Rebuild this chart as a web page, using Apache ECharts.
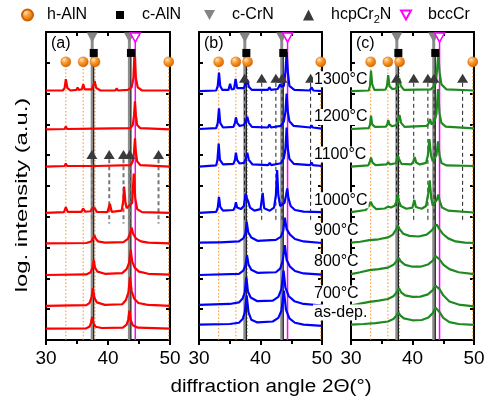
<!DOCTYPE html>
<html>
<head>
<meta charset="utf-8">
<script src="https://cdn.jsdelivr.net/npm/echarts@6/dist/echarts.min.js"></script>
<style>
  html, body { margin: 0; padding: 0; background: #fff; }
  #chart { width: 489px; height: 397px; }
</style>
</head>
<body>
<div id="chart"></div>
<script>
// reference peak positions (2theta, deg)
const hAlN = [33.2, 36.0, 37.9, 49.8];
const cAlN = [37.7, 43.7];
const cCrN = [37.45, 43.45];
const hcpCr2N = [37.4, 40.2, 42.5, 43.5, 48.15];
const bccCr = [44.4];

const temps = ['as-dep.', '700°C', '800°C', '900°C', '1000°C', '1100°C', '1200°C', '1300°C'];

// panel (a) - red
const aAsDep = [[30,0.37],[36.5,0.38],[37.0,0.43],[37.25,0.55],[37.45,0.75],[37.65,0.55],[38.0,0.43],[39,0.39],[42.4,0.4],[43.0,0.5],[43.25,0.65],[43.45,0.95],[43.65,0.65],[44.0,0.48],[44.8,0.4],[50,0.37]];
const a700 = [[30,1.11],[36.5,1.13],[37.0,1.2],[37.35,1.38],[37.55,1.68],[37.8,1.38],[38.2,1.22],[39.5,1.14],[42.3,1.16],[42.9,1.3],[43.3,1.55],[43.55,2.05],[43.8,1.6],[44.2,1.35],[44.9,1.2],[46.2,1.15],[46.4,1.2],[46.6,1.14],[50,1.11]];
const a800 = [[30,2.11],[36.5,2.13],[37.2,2.2],[37.5,2.35],[37.7,2.6],[37.9,2.35],[38.3,2.22],[39.5,2.15],[42.3,2.17],[43.0,2.3],[43.4,2.5],[43.65,2.93],[43.9,2.55],[44.3,2.35],[45.0,2.22],[46.5,2.15],[50,2.12]];
const a900 = [[30,3.14],[36.5,3.15],[37.3,3.2],[37.6,3.3],[37.8,3.4],[38.0,3.3],[38.4,3.2],[39.5,3.16],[42.5,3.18],[43.2,3.28],[43.55,3.45],[43.8,3.65],[44.05,3.45],[44.5,3.3],[45.3,3.2],[46.5,3.16],[50,3.14]];
const a1000 = [[30,4.13],[32.9,4.15],[33.2,4.31],[33.5,4.16],[35.7,4.16],[36.0,4.27],[36.3,4.17],[37.2,4.18],[37.5,4.3],[37.65,4.24],[37.85,4.28],[38.2,4.16],[39.9,4.15],[40.3,4.42],[40.6,4.16],[42.2,4.2],[42.45,4.5],[42.6,4.98],[42.8,4.5],[43.0,4.28],[43.3,4.3],[43.9,4.45],[44.15,5.4],[44.4,4.6],[44.7,4.25],[45.5,4.15],[50,4.13]];
const a1100 = [[30,5.63],[33.0,5.65],[33.2,5.73],[33.4,5.65],[37.7,5.65],[37.9,5.7],[38.1,5.65],[43.7,5.68],[44.0,5.8],[44.2,6.1],[44.35,6.55],[44.5,6.1],[44.7,5.8],[45.2,5.68],[50,5.63]];
const a1200 = [[30,6.84],[33.0,6.85],[33.2,6.93],[33.4,6.85],[37.7,6.86],[37.9,6.92],[38.1,6.86],[43.6,6.88],[44.0,6.98],[44.2,7.3],[44.35,7.75],[44.5,7.3],[44.7,6.98],[45.2,6.88],[50,6.84]];
const a1300 = [[30,8.1],[32.7,8.1],[33.0,8.18],[33.2,8.47],[33.45,8.18],[34,8.1],[34.9,8.12],[35.1,8.2],[35.3,8.12],[35.8,8.14],[36.0,8.3],[36.25,8.14],[37.4,8.14],[37.6,8.2],[37.85,8.4],[38.1,8.18],[38.8,8.1],[41.2,8.1],[41.4,8.17],[41.6,8.1],[43.2,8.12],[43.5,8.18],[43.8,8.2],[44.1,8.5],[44.3,9.45],[44.5,8.5],[44.8,8.2],[45.5,8.1],[47.9,8.1],[48.1,8.16],[48.3,8.1],[50,8.1]];

// panel (b) - blue
const bAsDep = [[30,0.5],[35,0.52],[36.5,0.56],[37.1,0.68],[37.45,0.9],[37.75,1.45],[38.05,0.9],[38.5,0.66],[39.5,0.57],[42.0,0.6],[42.9,0.72],[43.4,0.95],[43.8,1.6],[44.15,0.98],[44.7,0.7],[45.6,0.56],[47,0.5],[50,0.46]];
const b700 = [[30,1.14],[35,1.17],[36.5,1.22],[37.1,1.35],[37.45,1.55],[37.7,2.04],[37.95,1.58],[38.4,1.38],[39.5,1.26],[42.0,1.28],[42.9,1.4],[43.4,1.65],[43.75,2.25],[44.05,1.7],[44.6,1.42],[45.5,1.26],[47,1.17],[50,1.12]];
const b800 = [[30,2.11],[36.5,2.15],[37.2,2.25],[37.55,2.42],[37.8,2.75],[38.05,2.45],[38.5,2.28],[39.5,2.18],[42.5,2.2],[43.2,2.32],[43.6,2.55],[43.95,3.08],[44.25,2.6],[44.8,2.38],[45.6,2.24],[47,2.16],[50,2.12]];
const b900 = [[30,3.16],[33.0,3.17],[33.2,3.22],[33.4,3.17],[36.5,3.2],[37.2,3.3],[37.55,3.45],[37.75,3.84],[38.0,3.5],[38.5,3.33],[39.5,3.22],[42.5,3.25],[43.3,3.35],[43.7,3.55],[43.95,3.97],[44.25,3.6],[44.8,3.42],[45.6,3.28],[47,3.2],[50,3.15]];
const b1000 = [[30,4.13],[32.8,4.16],[33.05,4.3],[33.25,4.65],[33.45,4.32],[33.9,4.2],[35.6,4.22],[35.85,4.32],[36.0,4.47],[36.2,4.3],[36.8,4.25],[37.3,4.35],[37.6,4.76],[37.8,4.6],[38.0,4.5],[38.3,4.3],[39.0,4.2],[40.0,4.25],[40.35,4.78],[40.6,4.28],[41.5,4.2],[42.2,4.3],[42.5,4.7],[42.7,5.52],[42.9,4.7],[43.2,4.35],[43.5,4.3],[43.9,4.45],[44.15,4.7],[44.35,4.92],[44.55,4.6],[44.9,4.35],[45.6,4.22],[47,4.17],[50,4.15]];
const b1100 = [[30,5.63],[32.8,5.67],[33.0,5.85],[33.2,6.38],[33.4,5.85],[33.9,5.7],[35.6,5.72],[35.85,5.85],[36.0,6.08],[36.2,5.85],[36.6,5.73],[37.3,5.75],[37.6,5.88],[37.85,6.08],[38.1,5.85],[38.7,5.7],[41.25,5.68],[41.5,5.75],[41.75,5.68],[43.3,5.74],[43.8,5.9],[44.05,6.2],[44.25,6.9],[44.45,6.2],[44.7,5.88],[45.4,5.72],[48.1,5.68],[48.3,5.76],[48.5,5.68],[50,5.65]];
const b1200 = [[30,6.85],[32.8,6.88],[33.05,7.05],[33.25,7.52],[33.45,7.05],[33.9,6.9],[35.6,6.92],[35.85,7.05],[36.0,7.23],[36.2,7.05],[36.6,6.95],[37.3,6.98],[37.6,7.1],[37.85,7.25],[38.1,7.05],[38.6,6.92],[41.2,6.9],[41.45,7.0],[41.7,6.9],[43.3,6.95],[43.8,7.1],[44.05,7.4],[44.25,8.0],[44.45,7.4],[44.7,7.1],[45.4,6.95],[48.1,6.9],[48.3,6.97],[48.5,6.9],[50,6.86]];
const b1300 = [[30,8.08],[32.8,8.1],[33.05,8.25],[33.25,8.68],[33.45,8.25],[33.8,8.12],[34.8,8.12],[35.05,8.32],[35.3,8.14],[35.7,8.15],[35.95,8.48],[36.2,8.18],[37.3,8.18],[37.55,8.3],[37.85,8.44],[38.1,8.22],[38.6,8.12],[41.2,8.12],[41.45,8.2],[41.7,8.12],[42.8,8.15],[43.2,8.3],[43.4,8.22],[43.8,8.25],[44.05,8.7],[44.25,9.35],[44.45,8.7],[44.7,8.25],[45.5,8.12],[48.0,8.1],[48.3,8.2],[48.6,8.1],[50,8.08]];

// panel (c) - green
const cAsDep = [[30,0.5],[32,0.52],[34,0.55],[36,0.6],[36.9,0.68],[37.4,0.8],[37.7,0.9],[38.0,0.8],[38.6,0.7],[40,0.64],[41.5,0.65],[42.6,0.73],[43.3,0.88],[43.75,1.05],[44.0,1.08],[44.35,0.92],[45,0.72],[46,0.58],[47.5,0.52],[50,0.49]];
const c700 = [[30,1.12],[31.5,1.18],[33,1.24],[34.5,1.28],[36,1.33],[36.9,1.42],[37.45,1.55],[37.8,1.68],[38.15,1.55],[38.8,1.45],[40,1.4],[41.3,1.41],[42.5,1.48],[43.3,1.62],[43.75,1.76],[44.05,1.79],[44.4,1.65],[45,1.45],[46,1.25],[47.5,1.15],[50,1.09]];
const c800 = [[30,2.14],[31.5,2.2],[33,2.27],[34.5,2.3],[36,2.35],[36.9,2.44],[37.4,2.56],[37.75,2.67],[38.1,2.55],[38.8,2.44],[40,2.38],[41.3,2.38],[42.5,2.45],[43.3,2.58],[43.75,2.72],[44.05,2.74],[44.4,2.62],[45.0,2.45],[46,2.3],[47.5,2.2],[50,2.14]];
const c900 = [[30,3.16],[31.5,3.19],[33.0,3.24],[33.3,3.27],[34.5,3.27],[36.0,3.33],[36.8,3.42],[37.3,3.58],[37.6,3.72],[37.9,3.6],[38.5,3.45],[39.5,3.38],[41,3.36],[42.3,3.42],[43.1,3.55],[43.6,3.68],[43.95,3.75],[44.3,3.62],[44.9,3.45],[45.8,3.3],[47,3.2],[48.5,3.16],[50,3.15]];
const c1000 = [[30,4.15],[32.4,4.22],[32.9,4.35],[33.2,4.49],[33.5,4.36],[34.1,4.25],[35.5,4.27],[36.0,4.33],[36.5,4.3],[37.1,4.36],[37.4,4.5],[37.6,4.72],[37.8,4.5],[38.1,4.35],[39,4.26],[40.0,4.3],[40.3,4.55],[40.55,4.32],[41.5,4.26],[42.2,4.35],[42.55,4.75],[42.8,5.18],[43.05,4.6],[43.3,4.36],[43.6,4.4],[43.95,4.55],[44.2,4.72],[44.45,4.5],[44.8,4.3],[45.8,4.2],[50,4.14]];
const c1100 = [[30,5.63],[32.8,5.67],[33.05,5.78],[33.25,5.92],[33.5,5.76],[34,5.68],[35.8,5.7],[36.05,5.78],[36.3,5.7],[37.3,5.74],[37.6,5.99],[37.85,5.85],[38.2,5.72],[39.8,5.7],[40.1,5.78],[40.35,5.94],[40.6,5.76],[41.2,5.7],[42.2,5.75],[42.5,6.0],[42.75,6.52],[43.0,6.0],[43.3,5.8],[43.6,5.85],[43.9,6.0],[44.15,6.45],[44.4,6.0],[44.7,5.75],[45.5,5.67],[50,5.65]];
const c1200 = [[30,6.85],[32.9,6.88],[33.1,7.0],[33.25,7.28],[33.45,7.0],[33.9,6.92],[35.7,6.93],[35.9,7.0],[36.05,7.14],[36.25,7.0],[36.7,6.94],[37.4,6.98],[37.65,7.1],[37.9,7.3],[38.15,7.05],[38.7,6.92],[42.3,6.95],[42.6,7.02],[42.85,7.17],[43.1,7.0],[43.4,7.02],[43.6,7.1],[43.9,7.35],[44.15,8.15],[44.4,7.35],[44.7,7.05],[45.4,6.93],[50,6.87]];
const c1300 = [[30,8.08],[32.9,8.1],[33.1,8.3],[33.25,8.75],[33.45,8.3],[33.8,8.12],[35.6,8.13],[35.85,8.25],[36.05,8.6],[36.25,8.25],[36.7,8.15],[37.3,8.16],[37.6,8.28],[37.85,8.5],[38.1,8.25],[38.6,8.12],[43.0,8.14],[43.5,8.25],[43.8,8.35],[44.0,8.8],[44.2,9.3],[44.4,8.7],[44.7,8.3],[45.5,8.14],[50,8.1]];

const panels = [
  { tag: '(a)', color: '#ff0000', traces: [aAsDep, a700, a800, a900, a1000, a1100, a1200, a1300] },
  { tag: '(b)', color: '#0000ff', traces: [bAsDep, b700, b800, b900, b1000, b1100, b1200, b1300] },
  { tag: '(c)', color: '#1f8a1f', traces: [cAsDep, c700, c800, c900, c1000, c1100, c1200, c1300] }
];

// marker rows (in the stacked log-intensity units of the y axis)
const rowTri = 9.82, rowSq = 9.32, rowBall = 9.03;
const cr2nRow = [6.02, 8.5, 8.5];
const cr2nLineEnd = [3.78, 3.82, 3.82];

const font = 'Liberation Sans';
const grids = [
  { left: 46, top: 32, width: 124, height: 308 },
  { left: 199, top: 32, width: 123, height: 308 },
  { left: 351, top: 32, width: 123, height: 308 }
];

const ball = new echarts.graphic.RadialGradient(0.35, 0.3, 0.7, [
  { offset: 0, color: '#ffe2bd' },
  { offset: 0.45, color: '#f89a2c' },
  { offset: 1, color: '#d96800' }
]);
const downTri = 'path://M0,0 L10,0 L5,9 Z';

let chart = echarts.init(document.getElementById('chart'));
let xAxis = [], yAxis = [], series = [], graphic = [];

panels.forEach(function (p, g) {
  xAxis.push({
    gridIndex: g, type: 'value', min: 30, max: 50, interval: 10, position: 'bottom',
    axisLine: { onZero: false, lineStyle: { color: '#000', width: 2 } },
    axisTick: { inside: false, length: 5, lineStyle: { color: '#000', width: 2 } },
    minorTick: { show: true, splitNumber: 2, length: 4, lineStyle: { color: '#000', width: 2 } },
    axisLabel: { fontSize: 19, color: '#000', margin: 9, fontFamily: font },
    splitLine: { show: false }
  });
  xAxis.push({
    gridIndex: g, type: 'value', min: 30, max: 50, interval: 10, position: 'top',
    axisLine: { onZero: false, lineStyle: { color: '#000', width: 2 } },
    axisTick: { inside: true, length: 4, lineStyle: { color: '#000', width: 2 } },
    minorTick: { show: true, splitNumber: 2, length: 4, lineStyle: { color: '#000', width: 2 } },
    axisLabel: { show: false },
    splitLine: { show: false }
  });
  ['left', 'right'].forEach(function (pos) {
    yAxis.push({
      gridIndex: g, type: 'value', min: 0, max: 10, interval: 1, position: pos,
      axisLine: { onZero: false, lineStyle: { color: '#000', width: 2 } },
      axisTick: { inside: true, length: 4, lineStyle: { color: '#000', width: 2 } },
      axisLabel: { show: false },
      splitLine: { show: false }
    });
  });

  const xi = g * 2, yi = g * 2;
  function vline(x, y1, y2, style, z) {
    series.push({
      type: 'line', xAxisIndex: xi, yAxisIndex: yi, data: [[x, y1], [x, y2]],
      symbol: 'none', silent: true, z: z, lineStyle: style
    });
  }
  hAlN.forEach(x => vline(x, rowBall, 0, { color: '#ff8c1a', width: 1, type: [1.5, 2] }, 1));
  cCrN.forEach(x => vline(x, rowTri, 0, { color: '#8c8c8c', width: 3 }, 1));
  cAlN.forEach(x => vline(x, rowSq, 0, { color: '#000', width: 1 }, 1));
  bccCr.forEach(x => vline(x, rowTri, 0, { color: '#ff00ff', width: 1.5 }, 1));
  hcpCr2N.forEach(x => vline(x, cr2nRow[g] - 0.15, cr2nLineEnd[g],
    g === 0 ? { color: '#777', width: 2, type: [4, 3] } : { color: '#222', width: 1, type: [4, 3] }, 1));

  p.traces.forEach(function (d, i) {
    series.push({
      name: p.tag + ' ' + temps[i], type: 'line', xAxisIndex: xi, yAxisIndex: yi, data: d,
      symbol: 'none', z: 2, lineStyle: { color: p.color, width: 2.2 }
    });
  });

  series.push({
    name: 'h-AlN', type: 'scatter', xAxisIndex: xi, yAxisIndex: yi, z: 4,
    data: hAlN.map(x => [x, rowBall]), symbol: 'circle', symbolSize: 10,
    itemStyle: { color: ball, borderColor: '#d06000', borderWidth: 0.5, opacity: 1 }
  });
  series.push({
    name: 'c-AlN', type: 'scatter', xAxisIndex: xi, yAxisIndex: yi, z: 4,
    data: cAlN.map(x => [x, rowSq]), symbol: 'rect', symbolSize: 8,
    itemStyle: { color: '#000', opacity: 1 }
  });
  series.push({
    name: 'c-CrN', type: 'scatter', xAxisIndex: xi, yAxisIndex: yi, z: 4,
    data: cCrN.map(x => [x, rowTri]), symbol: downTri, symbolSize: [11, 10],
    itemStyle: { color: '#858585', opacity: 1 }
  });
  series.push({
    name: 'hcpCr2N', type: 'scatter', xAxisIndex: xi, yAxisIndex: yi, z: 4,
    data: hcpCr2N.map(x => [x, cr2nRow[g]]), symbol: 'triangle', symbolSize: [11, 9],
    itemStyle: { color: '#3a3a3a', opacity: 1 }
  });
  series.push({
    name: 'bccCr', type: 'scatter', xAxisIndex: xi, yAxisIndex: yi, z: 4,
    data: bccCr.map(x => [x, rowTri]), symbol: downTri, symbolSize: [10, 9],
    itemStyle: { color: '#ffffff', borderColor: '#ff00ff', borderWidth: 1.5, opacity: 1 }
  });

  graphic.push({
    type: 'text', left: grids[g].left + 5, top: 36, z: 10,
    style: { text: p.tag, fontSize: 16, fontFamily: font, fill: '#000' }
  });
});

function legendItem(name, left, size, pad) {
  return {
    data: [name], left: left, top: 7, padding: 0, itemWidth: size, itemHeight: size,
    selectedMode: false,
    textStyle: {
      fontSize: 16, color: '#000', fontFamily: font, padding: [0, 0, 0, pad],
      rich: { s: { fontSize: 11, fontFamily: font, color: '#000', padding: [9, 0, 0, 0] } }
    },
    formatter: n => n === 'hcpCr2N' ? 'hcpCr{s|2}N' : n
  };
}

graphic.push({
  type: 'text', x: 271, y: 387, scaleX: 1.15, z: 10,
  style: { text: 'diffraction angle 2Θ(°)', fontSize: 18, fontFamily: font, fill: '#000',
           textAlign: 'center', textVerticalAlign: 'middle' }
});
graphic.push({
  type: 'text', x: 22, y: 195, rotation: Math.PI / 2, scaleX: 1.4, z: 10,
  style: { text: 'log. intensity (a.u.)', fontSize: 17, fontFamily: font, fill: '#000',
           textAlign: 'center', textVerticalAlign: 'middle' }
});

chart.setOption({
  animation: false,
  grid: grids,
  xAxis: xAxis,
  yAxis: yAxis,
  legend: [
    legendItem('h-AlN', 21, 11, 9),
    legendItem('c-AlN', 116, 8, 13),
    legendItem('c-CrN', 204, 11, 12),
    legendItem('hcpCr2N', 303, 11, 12),
    legendItem('bccCr', 400, 10, 12)
  ],
  series: series,
  graphic: graphic
});

// temperature labels sit just above each panel (c) trace start, on a white patch
const measure = document.createElement('canvas').getContext('2d');
measure.font = '16px "Liberation Sans"';
const cTraces = panels[2].traces;
const tempLabels = [];
temps.forEach(function (t, i) {
  const py = chart.convertToPixel({ gridIndex: 2 }, cTraces[i][0])[1] - 12;
  const w = measure.measureText(t).width;
  tempLabels.push({
    type: 'rect', z: 19, silent: true,
    shape: { x: 313, y: py - 8, width: w + 2, height: 16 },
    style: { fill: '#fff' }
  });
  tempLabels.push({
    type: 'text', x: 314, y: py, z: 20,
    style: { text: t, fontSize: 16, fontFamily: font, fill: '#000', textVerticalAlign: 'middle' }
  });
});
chart.setOption({ graphic: graphic.concat(tempLabels) });
</script>
</body>
</html>
